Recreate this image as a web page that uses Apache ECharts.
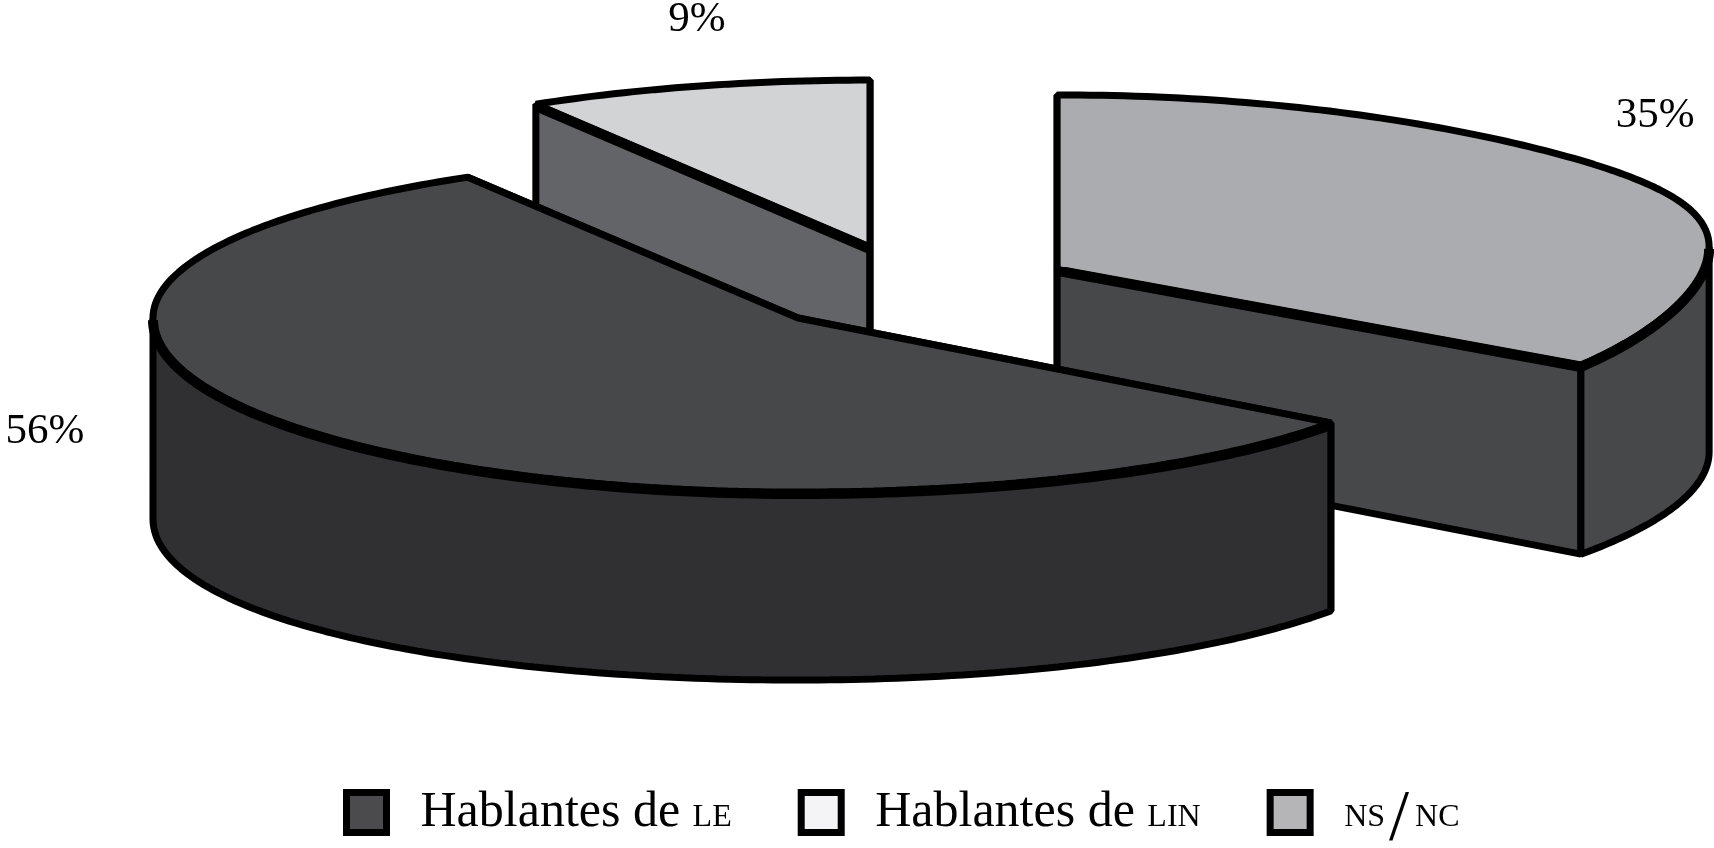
<!DOCTYPE html>
<html>
<head>
<meta charset="utf-8">
<title>Hablantes</title>
<style>
  html, body { margin: 0; background: #fff; }
  #chart { width: 1714px; height: 848px; }
</style>
<script src="https://cdn.jsdelivr.net/npm/echarts@6/dist/echarts.min.js"></script>
</head>
<body>
<div id="chart"></div>
<script>
// data, in legend order
const categories = ['Hablantes de LE', 'Hablantes de LIN', 'NS/NC']
const shares = [56, 9, 35]
const shareLabels = ['56%', '9%', '35%']

// colours per category
const topColors = ['#47484a', '#d1d3d4', '#abacaf']
const wallColors = ['#303032', '#636468', '#47484a']
const legendColors = ['#4b4b4d', '#f4f4f6', '#b5b5b7']

// fake 3D pie geometry (px)
const pie = { cx: 914.6, cy: 288.5, rx: 645, ry: 174, explode: 0.248, startAngle: 36 }
const font = '"Liberation Serif", serif'
// slices further back are painted first
const paintOrder = [3, 1, 2]
// label position relative to the slice centre
const labelOffsets = [[-753, 114], [-173, -227], [598, -153]]

// the original artwork is not a clean ellipse, per slice corrections
const ryTop = [164, 167, 174]
const ryBottom = [174, 174, 174]
const depths = [188, 188, 183]
const depthLeft = [13, 0, 0]
const rimDrop = [10, 0, 0]
const rimBulge = [0, 0, 1]
const angleTrim = [[-1.7, 1.6], [1.2, 0], [0, 0]]

const total = shares.reduce((a, b) => a + b, 0)

// point on the top rim, t in degrees
function rimPoint(index, c, deg) {
  const t = deg * Math.PI / 180
  const cos = Math.cos(t)
  const sin = Math.sin(t)
  const ry = sin < 0 ? ryTop[index] : ryBottom[index]
  const right = Math.max(0, cos)
  const bulge = rimBulge[index] * Math.pow(right, 6)
  return [c[0] + pie.rx * cos + 7 * bulge, c[1] + ry * sin - 22 * bulge + rimDrop[index] * right * right]
}

// same angle on the bottom edge of the wall
function floorPoint(index, c, deg) {
  const t = deg * Math.PI / 180
  const cos = Math.cos(t)
  const sin = Math.sin(t)
  const ry = sin < 0 ? ryTop[index] : ryBottom[index]
  const right = Math.max(0, cos)
  const bulge = rimBulge[index] * Math.pow(right, 6)
  const d = depths[index] + depthLeft[index] * Math.pow(Math.max(0, -cos), 2)
  return [c[0] + pie.rx * cos + 7 * bulge, c[1] + ry * sin + d + rimDrop[index] * right * right]
}

function sweep(fn, index, c, from, to) {
  const pts = []
  const n = Math.max(2, Math.ceil(to - from))
  for (let i = 0; i <= n; i++) {
    pts.push(fn(index, c, from + (to - from) * i / n))
  }
  return pts
}

function renderSlice(index, api) {
  const before = shares.slice(0, index).reduce((a, b) => a + b, 0)
  const start = pie.startAngle + before / total * 360
  const end = start + api.value(0) / total * 360
  const mid = (start + end) / 2 * Math.PI / 180
  const a0 = start + angleTrim[index][0]
  const a1 = end + angleTrim[index][1]
  const c = [
    pie.cx + pie.explode * pie.rx * Math.cos(mid),
    pie.cy + pie.explode * pie.ry * Math.sin(mid),
  ]
  const outline = { stroke: '#000', lineWidth: 7, lineJoin: 'bevel' }
  const wall = Object.assign({ fill: wallColors[index] }, outline)
  const children = []

  // the two cut faces
  ;[a0, a1].forEach((a) => {
    const rim = rimPoint(index, c, a)
    const low = floorPoint(index, c, a)
    children.push({
      type: 'polygon',
      shape: { points: [c, rim, low, [c[0], c[1] + depths[index]]] },
      style: wall,
    })
  })

  // outer wall, only the part facing the viewer
  const frontArcs = []
  for (let k = 0; k <= 1; k++) {
    const lo = Math.max(a0, k * 360)
    const hi = Math.min(a1, k * 360 + 180)
    if (hi > lo) {
      frontArcs.push([lo, hi])
      children.push({
        type: 'polygon',
        shape: {
          points: sweep(rimPoint, index, c, lo, hi).concat(sweep(floorPoint, index, c, lo, hi).reverse()),
        },
        style: wall,
      })
    }
  }

  // top face
  children.push({
    type: 'polygon',
    shape: { points: [c].concat(sweep(rimPoint, index, c, a0, a1)) },
    style: Object.assign({ fill: topColors[index] }, outline),
  })

  // top edges that meet a visible wall are heavier in the original
  const heavy = { fill: 'none', stroke: '#000', lineWidth: 10, lineCap: 'butt', lineJoin: 'round' }
  frontArcs.forEach(([lo, hi]) => {
    const pts = sweep(rimPoint, index, c, lo, hi).map((p) => [p[0], p[1] + 2])
    children.push({ type: 'polyline', shape: { points: pts }, style: heavy })
  })
  ;[[a0, 1], [a1, -1]].forEach(([a, side]) => {
    // a cut face is visible when the slice lies on its far side
    const cos = Math.cos(a * Math.PI / 180)
    if (side * cos < 0 && Math.abs(cos) > 0.01) {
      const rim = rimPoint(index, c, a)
      children.push({
        type: 'polyline',
        shape: { points: [[c[0], c[1] + 2], [rim[0], rim[1] + 2]] },
        style: heavy,
      })
    }
  })

  children.push({
    type: 'text',
    style: {
      text: shareLabels[index],
      x: c[0] + labelOffsets[index][0],
      y: c[1] + labelOffsets[index][1],
      align: 'center',
      verticalAlign: 'middle',
      fill: '#000',
      font: '43px ' + font,
    },
  })
  return { type: 'group', children }
}

const chart = echarts.init(document.getElementById('chart'), null, { renderer: 'canvas' })
chart.setOption({
  animation: false,
  backgroundColor: '#fff',
  tooltip: { show: false },
  legend: {
    left: 338,
    top: 764,
    orient: 'horizontal',
    itemWidth: 40,
    itemHeight: 40,
    itemGap: 66,
    selectedMode: false,
    data: categories.map((name, i) => ({
      name,
      icon: 'rect',
      itemStyle: { color: legendColors[i], borderColor: '#000', borderWidth: 7 },
    })),
    formatter(name) {
      if (name === 'NS/NC') {
        return '{b|NS}{s|/}{b|NC}'
      }
      const parts = name.split(' ')
      const caps = parts.pop()
      return '{a|' + parts.join(' ') + ' }{b|' + caps + '}'
    },
    textStyle: {
      padding: [0, 0, 0, 29],
      rich: {
        a: { fontFamily: font, fontSize: 50, color: '#000' },
        // small caps sit on the same baseline as the big text
        b: { fontFamily: font, fontSize: 32, color: '#000', verticalAlign: 'bottom', padding: [0, 0, 4, 0] },
        // oversized slash, line height kept so it does not push the row
        s: {
          fontFamily: font,
          fontSize: 72,
          lineHeight: 50,
          color: '#000',
          verticalAlign: 'middle',
          padding: [15, 6, 0, 4],
        },
      },
    },
  },
  series: categories.map((name, i) => ({
    type: 'custom',
    name,
    coordinateSystem: 'none',
    z: paintOrder[i],
    itemStyle: { color: topColors[i] },
    renderItem: (params, api) => renderSlice(i, api),
    data: [[shares[i]]],
  })),
})
</script>
</body>
</html>
